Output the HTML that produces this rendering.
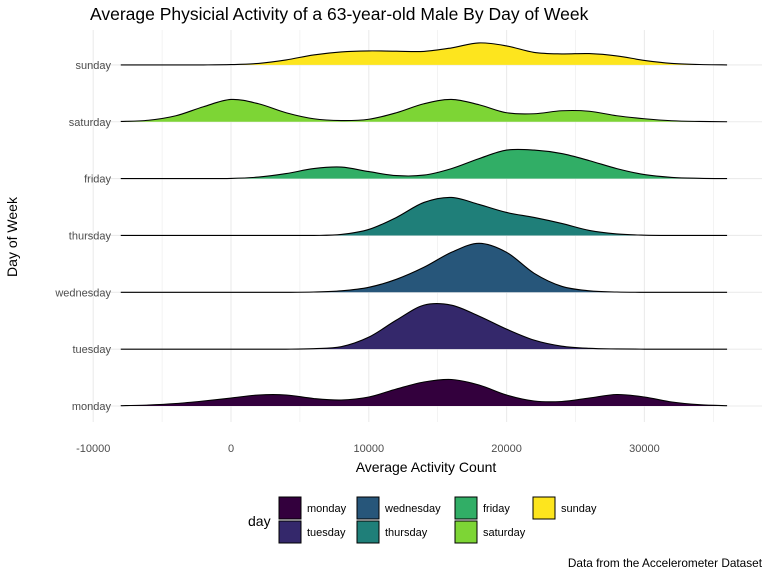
<!DOCTYPE html>
<html><head><meta charset="utf-8">
<style>
body{margin:0;background:#fff;font-family:"Liberation Sans",Arial,sans-serif;}
svg text{font-family:"Liberation Sans",Arial,sans-serif;}
</style></head>
<body>
<svg id="chart" width="768" height="576" viewBox="0 0 768 576">
<text x="90" y="20" font-size="17.5" fill="#000">Average Physicial Activity of a 63-year-old Male By Day of Week</text>
<g id="grid"></g>
<g id="ridges"></g>
<g id="xaxis"></g>
<g id="yaxis"></g>
<text x="426" y="472" font-size="14" text-anchor="middle">Average Activity Count</text>
<text transform="translate(17,237) rotate(-90)" font-size="14" text-anchor="middle">Day of Week</text>
<g id="legend"></g>
<text x="762" y="567" font-size="11.8" text-anchor="end">Data from the Accelerometer Dataset</text>
</svg>
<script>
const days = ["monday","tuesday","wednesday","thursday","friday","saturday","sunday"];
const colors = ["#33003d","#34286b","#27567a","#1f7f79","#31ae66","#7dd535","#fde51e"];
const xGrid = [-8000,-6000,-4000,-2000,0,2000,4000,6000,8000,10000,12000,14000,16000,18000,20000,22000,24000,26000,28000,30000,32000,34000,36000];
const monday    = [0.3,1,2.5,5,8,11,11,7.5,6,9,17,24,26.5,21,11,5,4.5,8,11.5,9,4,1.3,0.3];
const tuesday   = [0,0,0,0,0,0,0,0.5,2.5,12,29,44,44,33,20,9,3,0.8,0.2,0,0,0,0];
const wednesday = [0,0,0,0,0,0,0,0.3,1.5,5,13,25,40,49,40,19,6,1.5,0.3,0,0,0,0];
const thursday  = [0,0,0,0,0,0,0,0,1,6,18,33,38,31,23,18,12,5,1.5,0.3,0,0,0];
const friday    = [0,0,0,0,0.2,1.5,5,10,11.5,7,3,3.5,10,20,28.5,28.5,25,18,10,4,1.2,0.3,0];
const saturday  = [0.3,1.5,6,15,22.3,18,9,3,1.2,2.5,9,18,22.3,17,9,8,11,10.5,6,3,1,0.3,0];
const sunday    = [0,0,0,0,0.3,1.5,5,10,13,14,13.7,13.5,17,22,19,12.5,11,11.3,9,4.5,1.5,0.4,0];
const series = [monday,tuesday,wednesday,thursday,friday,saturday,sunday];
const xTicks = [-10000,0,10000,20000,30000];
const xTickLabels = ["-10000","0","10000","20000","30000"];

const NS="http://www.w3.org/2000/svg";
const xs = v => 231 + (v/10000)*137.8;
const yBase = i => 406 - i*56.85;
const hs = d => d*1.0;
function mk(tag,attrs,parent){const e=document.createElementNS(NS,tag);for(const k in attrs)e.setAttribute(k,attrs[k]);parent.appendChild(e);return e;}

const grid=document.getElementById('grid');
for(let v=-10000;v<=35000;v+=5000){
  const major = v%10000===0;
  const l=mk('line',{x1:xs(v),x2:xs(v),y1:30,y2:422,stroke:'#ebebeb','stroke-width':major?1.1:0.6},grid);
  
  
}
days.forEach((d,i)=>{
  const l=mk('line',{x1:85,x2:762,y1:yBase(i),y2:yBase(i),stroke:'#ebebeb','stroke-width':1.1},grid);
  
  
});

function pathFor(vals,i){
  const pts=xGrid.map((x,k)=>[xs(x),yBase(i)-hs(vals[k])]);
  let p=`M${pts[0][0]},${pts[0][1]}`;
  for(let k=0;k<pts.length-1;k++){
    const p0=pts[Math.max(0,k-1)],p1=pts[k],p2=pts[k+1],p3=pts[Math.min(pts.length-1,k+2)];
    const c1=[p1[0]+(p2[0]-p0[0])/6,p1[1]+(p2[1]-p0[1])/6];
    const c2=[p2[0]-(p3[0]-p1[0])/6,p2[1]-(p3[1]-p1[1])/6];
    c1[1]=Math.min(c1[1],yBase(i));c2[1]=Math.min(c2[1],yBase(i));
    p+=` C${c1[0]},${c1[1]} ${c2[0]},${c2[1]} ${p2[0]},${p2[1]}`;
  }
  return p;
}
const ridges=document.getElementById('ridges');
for(let i=days.length-1;i>=0;i--){
  const line=pathFor(series[i],i);
  const x0=xs(xGrid[0]),x1=xs(xGrid[xGrid.length-1]),b=yBase(i);
  const area=mk('path',{d:`M${x0},${b} L`+line.slice(1)+` L${x1},${b} Z`,fill:colors[i],stroke:'none'},ridges);
  
  
  const ln=mk('path',{d:line,fill:'none',stroke:'#000','stroke-width':1.1},ridges);
  
  
}
const xa=document.getElementById('xaxis');
xTicks.forEach((v,k)=>{
  const t=mk('text',{x:xs(v),y:452,'font-size':11,'text-anchor':'middle',fill:'#4d4d4d'},xa);
  t.textContent=xTickLabels[k];
  
  
});
const ya=document.getElementById('yaxis');
days.forEach((d,i)=>{
  const t=mk('text',{x:111,y:yBase(i)+4,'font-size':11,'text-anchor':'end',fill:'#4d4d4d'},ya);
  t.textContent=d;
  
  
});
const lg=document.getElementById('legend');
const lt=mk('text',{x:248,y:526,'font-size':14},lg);
lt.textContent='day';


const colX=[279,357,455,533];
days.forEach((d,i)=>{
  const c=Math.floor(i/2),r=i%2;
  const g=mk('g',{},lg);
  
  
  mk('rect',{x:colX[c],y:497+r*24,width:22,height:22,fill:colors[i],stroke:'#000','stroke-width':1},g);
  const t=mk('text',{x:colX[c]+28,y:512+r*24,'font-size':11},g);
  t.textContent=d;
});
</script>
</body></html>
